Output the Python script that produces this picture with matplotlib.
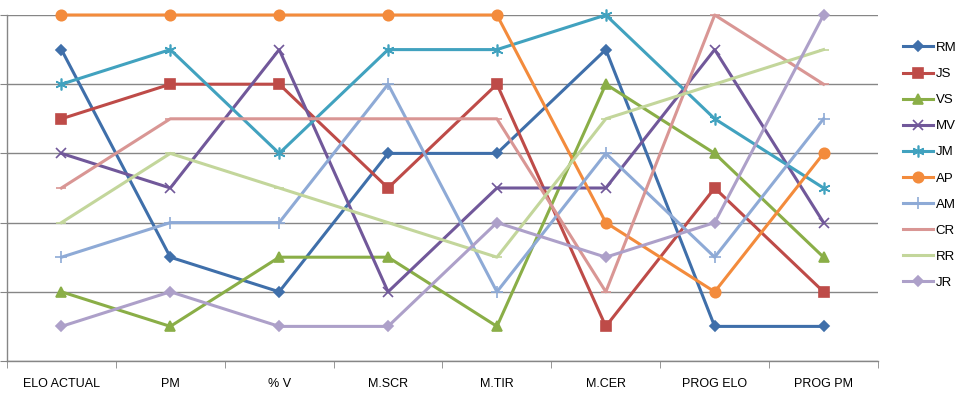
import matplotlib.pyplot as plt
import numpy as np

categories = ["ELO ACTUAL", "PM", "% V", "M.SCR", "M.TIR", "M.CER", "PROG ELO", "PROG PM"]

series_names = ["RM", "JS", "VS", "MV", "JM", "AP", "AM", "CR", "RR", "JR"]
rm = [9, 3, 2, 6, 6, 9, 1, 1]
js = [7, 8, 8, 5, 8, 1, 5, 2]
vs = [2, 1, 3, 3, 1, 8, 6, 3]
mv = [6, 5, 9, 2, 5, 5, 9, 4]
jm = [8, 9, 6, 9, 9, 10, 7, 5]
ap = [10, 10, 10, 10, 10, 4, 2, 6]
am = [3, 4, 4, 8, 2, 6, 3, 7]
cr = [5, 7, 7, 7, 7, 2, 10, 8]
rr = [4, 6, 5, 4, 3, 7, 8, 9]
jr = [1, 2, 1, 1, 4, 3, 4, 10]

colors = ["#3F6FAA", "#BE4B48", "#8AAE47", "#71589A", "#41A2BF",
          "#F38B3C", "#8EAAD6", "#D99694", "#C3D69B", "#ADA0C9"]
markers = ["D", "s", "^", "x", (6, 2, 0), "o", "+", "_", "_", "D"]
msizes = [5.5, 7.5, 7.5, 7.5, 8.5, 7.5, 8.5, 7, 7, 5.5]

plt.rcParams['font.family'] = ['Liberation Sans', 'DejaVu Sans']

fig = plt.figure(figsize=(9.62, 3.95), dpi=100)
ax = fig.add_axes([7 / 962, 1 - 361 / 395, (878 - 7) / 962, (361 - 15) / 395])

x = np.arange(len(categories))
all_series = [rm, js, vs, mv, jm, ap, am, cr, rr, jr]
for name, vals, c, m, ms in zip(series_names, all_series, colors, markers, msizes):
    ax.plot(x, vals, color=c, linewidth=2.2, marker=m, markersize=ms,
            markeredgewidth=1.2, markerfacecolor=c, markeredgecolor=c,
            label=name, clip_on=False)

ax.set_xlim(-0.5, len(categories) - 0.5)
ax.set_ylim(0, 10)
ax.set_yticks([0, 2, 4, 6, 8, 10])
ax.set_yticklabels([])
ax.yaxis.grid(True, color="#868686", linewidth=1)
ax.set_axisbelow(True)

ax.set_xticks(x)
ax.set_xticklabels(categories, fontsize=9)
ax.set_xticks(np.arange(-0.5, len(categories)), minor=True)
ax.tick_params(axis="x", which="major", length=0, pad=12)
ax.tick_params(axis="x", which="minor", length=5, color="#868686", direction="out")
ax.tick_params(axis="y", length=5, color="#868686", direction="out")

for s in ["top", "right"]:
    ax.spines[s].set_visible(False)
for s in ["left", "bottom"]:
    ax.spines[s].set_color("#868686")
    ax.spines[s].set_linewidth(1)

ax.legend(loc="upper left", bbox_to_anchor=(891 / 962, 1 - 30 / 395),
          bbox_transform=fig.transFigure, frameon=False, fontsize=9.5,
          handlelength=2.3, handletextpad=0.2, labelspacing=1.05)

fig.savefig("out.png", dpi=100)
